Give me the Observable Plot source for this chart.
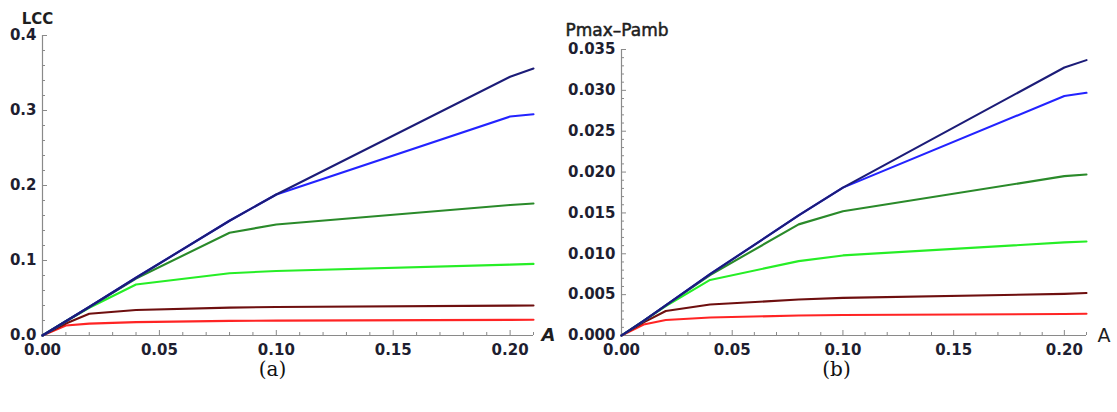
<!DOCTYPE html>
<html>
<head>
<meta charset="utf-8">
<script src="https://cdn.jsdelivr.net/npm/d3@7"></script>
<script src="https://cdn.jsdelivr.net/npm/@observablehq/plot@0.6"></script>
<style>
  html, body { margin: 0; padding: 0; background: #fff; }
  #row { display: flex; flex-direction: row; width: 1117px; height: 412px; }
  svg { display: block; }
</style>
</head>
<body>
<div id="row"></div>
<script>
// ---- data ----
const A = [0, 0.01, 0.02, 0.04, 0.08, 0.10, 0.20, 0.21];
const seriesNames = ["s1", "s2", "s3", "s4", "s5", "s6"]; // draw order (last on top)
const seriesColors = ["#ff2424", "#6e0f0f", "#26ee26", "#2a8a2a", "#2323ff", "#1c1c78"];

// Panel (a): LCC
const lccRed    = [0, 0.0133, 0.0158, 0.0178, 0.0195, 0.0198, 0.0208, 0.0210];
const lccMaroon = [0, 0.0160, 0.0290, 0.0340, 0.0372, 0.0380, 0.0398, 0.0400];
const lccGreen  = [0, 0.0190, 0.0370, 0.0680, 0.0830, 0.0860, 0.0945, 0.0955];
const lccDkGrn  = [0, 0.0190, 0.0380, 0.0760, 0.1370, 0.1480, 0.1740, 0.1760];
const lccBlue   = [0, 0.0190, 0.0380, 0.0770, 0.1530, 0.1880, 0.2920, 0.2950];
const lccNavy   = [0, 0.0190, 0.0380, 0.0770, 0.1530, 0.1880, 0.3450, 0.3560];

// Panel (b): Pmax-Pamb
const pRed    = [0, 0.00135, 0.0019, 0.0022, 0.00245, 0.0025, 0.00263, 0.00266];
const pMaroon = [0, 0.0016, 0.0030, 0.0038, 0.0044, 0.0046, 0.0051, 0.0052];
const pGreen  = [0, 0.0018, 0.0036, 0.0068, 0.0091, 0.0098, 0.0114, 0.0115];
const pDkGrn  = [0, 0.0018, 0.0037, 0.0074, 0.0136, 0.0152, 0.0195, 0.0197];
const pBlue   = [0, 0.0018, 0.0037, 0.0075, 0.0147, 0.0181, 0.0293, 0.0297];
const pNavy   = [0, 0.0018, 0.0037, 0.0075, 0.0147, 0.0181, 0.0328, 0.0337];

// ticks
const xMajor = [0, 0.05, 0.10, 0.15, 0.20];
const xMinor = [0.01,0.02,0.03,0.04,0.06,0.07,0.08,0.09,0.11,0.12,0.13,0.14,0.16,0.17,0.18,0.19,0.21];
const lccMajor = [0, 0.1, 0.2, 0.3, 0.4];
const lccMinor = [0.02,0.04,0.06,0.08,0.12,0.14,0.16,0.18,0.22,0.24,0.26,0.28,0.32,0.34,0.36,0.38];
const pMajor = [0, 0.005, 0.010, 0.015, 0.020, 0.025, 0.030, 0.035];
const pMinor = [];
for (let i = 1; i < 35; i++) if (i % 5 !== 0) pMinor.push(+(i * 0.001).toFixed(3));

function rows(list) {
  const out = [];
  list.forEach((vals, si) => vals.forEach((v, i) => out.push({A: A[i], v, s: seriesNames[si]})));
  return out;
}

const axisGray = "#8a8a8a";
const labelFont = "DejaVu Sans";

function panel({width, mL, mR, mT, mB, yDomain, yMajor, yMinor, yFmt, data, yLabel, yLabelDx, yLabelDy, yLabelAnchor, yLabelWeight, yLabelSize, yLabelStroke, aStyle, caption, capDx}) {
  const H = 412;
  const iw = width - mL - mR;
  const ih = H - mT - mB;
  return Plot.plot({
    width, height: H,
    marginLeft: mL, marginRight: mR, marginTop: mT, marginBottom: mB,
    style: {fontFamily: labelFont, background: "#fff", overflow: "visible"},
    x: {domain: [0, 0.21]},
    y: {domain: yDomain},
    color: {domain: seriesNames, range: seriesColors},
    marks: [
      // minor / major ticks pointing inward
      Plot.tickY(yMinor, {y: d => d, stroke: axisGray, insetRight: iw - 3}),
      Plot.tickY(yMajor, {y: d => d, stroke: axisGray, insetRight: iw - 5}),
      Plot.tickX(xMinor, {x: d => d, stroke: axisGray, insetTop: ih - 3}),
      Plot.tickX(xMajor, {x: d => d, stroke: axisGray, insetTop: ih - 5}),
      Plot.ruleX([0], {y1: yDomain[0], y2: yDomain[1], stroke: axisGray, strokeWidth: 1.2}),
      Plot.ruleY([0], {x1: 0, x2: 0.21, stroke: axisGray, strokeWidth: 1.2}),
      Plot.axisX({ticks: xMajor, tickSize: 0, tickPadding: 9, tickFormat: d3.format(".2f"),
        fontSize: 15, fontWeight: "bold", fill: "#1e1e30", label: null}),
      Plot.axisY({ticks: yMajor, tickSize: 0, tickPadding: 6, tickFormat: d3.format(yFmt),
        fontSize: 15, fontWeight: "bold", fill: "#1e1e30", label: null}),
      Plot.line(data, {x: "A", y: "v", z: "s", stroke: "s", strokeWidth: 2.1, curve: "linear"}),
      Plot.text([yLabel], {frameAnchor: "top-left", dx: yLabelDx, dy: yLabelDy, textAnchor: yLabelAnchor,
        fontSize: yLabelSize, fontWeight: yLabelWeight, fill: "#1e1e1e", fontFamily: labelFont,
        stroke: "#1e1e1e", strokeWidth: yLabelStroke}),
      Plot.text(["A"], {frameAnchor: "bottom-right", dx: aStyle.dx, dy: 0, textAnchor: "start", lineAnchor: "middle",
        fontSize: aStyle.size, fontWeight: aStyle.weight, fontStyle: aStyle.italic ? "italic" : "normal",
        fill: "#1e1e1e", fontFamily: labelFont}),
      Plot.text([caption], {frameAnchor: "bottom-left", dx: capDx, dy: 34, textAnchor: "middle", lineAnchor: "middle",
        fontSize: 20, fill: "#111", fontFamily: "DejaVu Serif"})
    ]
  });
}

const dataA = rows([lccRed, lccMaroon, lccGreen, lccDkGrn, lccBlue, lccNavy]);
const dataB = rows([pRed, pMaroon, pGreen, pDkGrn, pBlue, pNavy]);

const left = panel({
  width: 558, mL: 42, mR: 25, mT: 35, mB: 77,
  yDomain: [0, 0.4], yMajor: lccMajor, yMinor: lccMinor, yFmt: ".1f", data: dataA,
  yLabel: "LCC", yLabelDx: -5, yLabelDy: -22, yLabelAnchor: "middle", yLabelWeight: "bold", yLabelSize: 15, yLabelStroke: 0,
  aStyle: {dx: 8, size: 18, weight: "bold", italic: true},
  caption: "(a)", capDx: 230
});
const right = panel({
  width: 559, mL: 63, mR: 31, mT: 49, mB: 77,
  yDomain: [0, 0.035], yMajor: pMajor, yMinor: pMinor, yFmt: ".3f", data: dataB,
  yLabel: "Pmax\u2013Pamb", yLabelDx: -56, yLabelDy: -26, yLabelAnchor: "start", yLabelWeight: "normal", yLabelSize: 17, yLabelStroke: 0.5,
  aStyle: {dx: 11, size: 19, weight: "normal", italic: false},
  caption: "(b)", capDx: 215
});
document.getElementById("row").append(left, right);
</script>
</body>
</html>
